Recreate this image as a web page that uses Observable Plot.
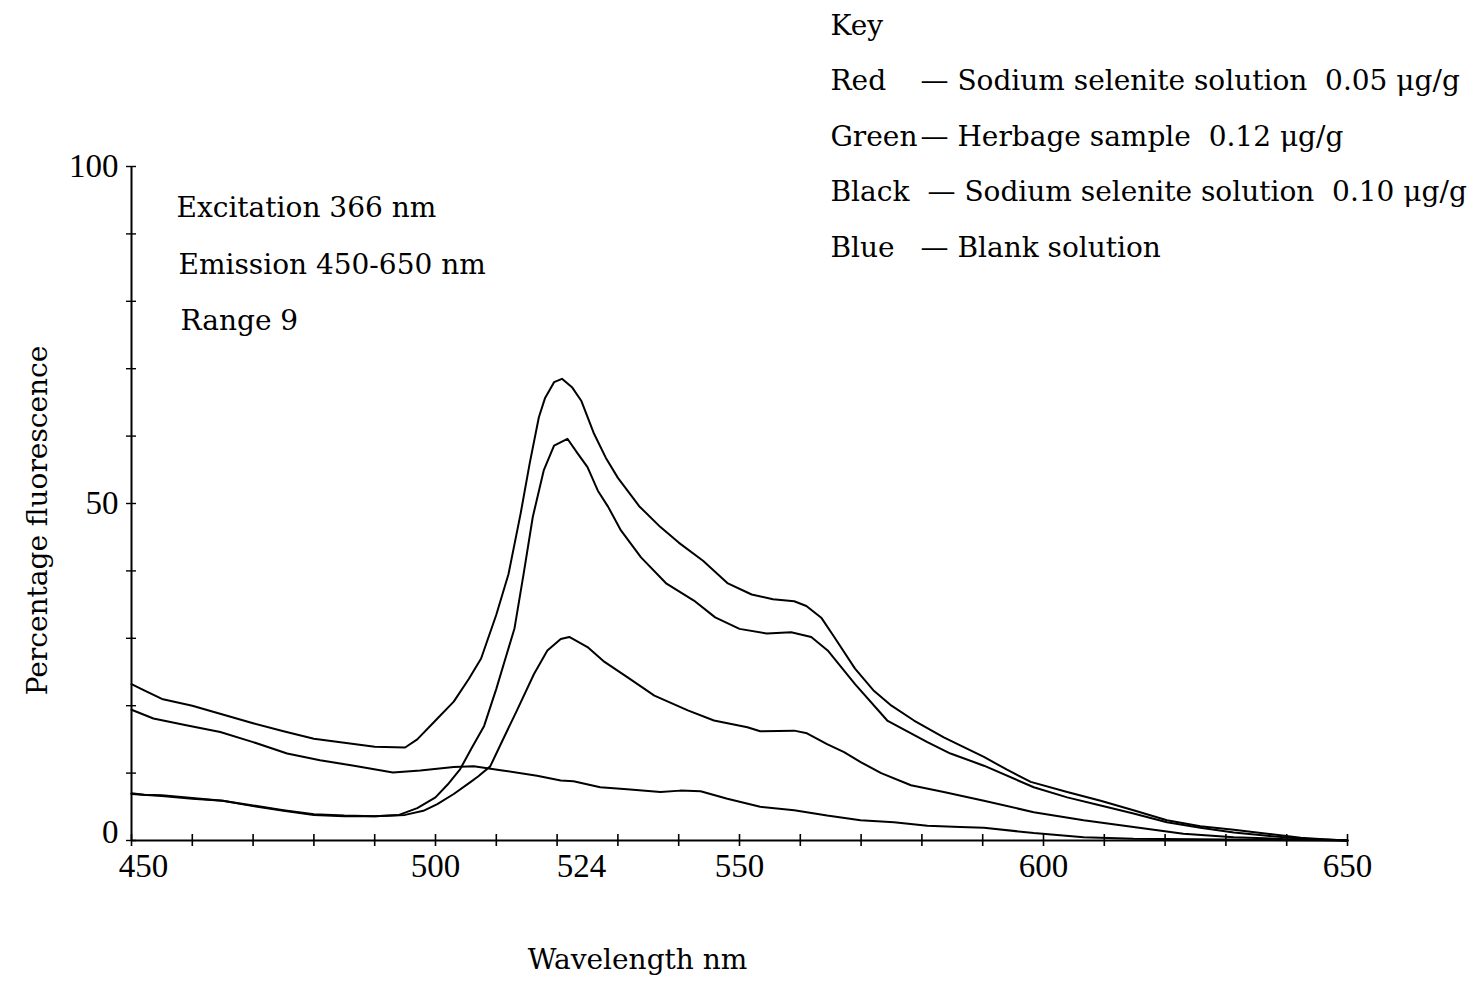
<!DOCTYPE html>
<html><head><meta charset="utf-8">
<script src="https://cdn.jsdelivr.net/npm/d3@7"></script>
<script src="https://cdn.jsdelivr.net/npm/@observablehq/plot@0.6"></script>
<style>
html,body{margin:0;padding:0;background:#fff;}
#chart svg{display:block;}
</style></head><body><div id="chart"></div>
<script>
// ---------- data ----------
const seriesNames = ["Red", "Green", "Black", "Blue"];
const keyDescriptions = [
  "Sodium selenite solution\u00a0\u00a00.05\u00a0\u03bcg/g",
  "Herbage sample\u00a0\u00a00.12\u00a0\u03bcg/g",
  "Sodium selenite solution\u00a0\u00a00.10\u00a0\u03bcg/g",
  "Blank solution"
];
const notes = ["Excitation 366 nm", "Emission 450-650 nm", "Range 9"];
const xTickLabels = [450, 500, 524, 550, 600, 650];
const xMinorTicks = [450, 460, 470, 480, 490, 500, 510, 520, 530, 540, 550, 560, 570, 580, 590, 600, 610, 620, 630, 640, 650];
const yTickLabels = [0, 50, 100];
const yMinorTicks = [0, 10, 20, 30, 40, 50, 60, 70, 80, 90, 100];

// Green: herbage sample 0.12 ug/g (tallest peak)
const greenWl = [450,452,455,460,465,470,475,480,485,490,495,497,500,503,505.5,507.5,510,512,514,515.5,517,518,519.5,520.8,522.5,524,526,528,530,533.5,537,540,544,548,552,555.5,559,561,563.5,565.5,569,572,575,578.7,583.6,586.3,590.2,594,597.9,603.9,609.4,614.8,620.3,625.8,631.3,636.8,642.3,646,650];
const greenPct = [23.2,22.3,21.0,20.0,18.7,17.4,16.2,15.1,14.5,13.9,13.8,15.0,17.8,20.6,24.0,27.0,33.5,39.5,48.5,56.0,62.8,65.6,68.0,68.5,67.2,65.2,60.5,56.8,53.8,49.6,46.5,44.2,41.5,38.2,36.5,35.8,35.5,34.8,33.0,30.3,25.5,22.3,20.0,17.8,15.3,14.1,12.4,10.5,8.7,7.2,5.9,4.5,3.0,2.1,1.6,1.0,0.4,0.2,0.0];

// Black: sodium selenite 0.10 ug/g
const blackWl = [450,452,455,460,465,470,475,480,485,490,494,497,500,502,504,506,508,510,511.5,513,514.5,516,517.8,519.5,521.7,523.4,525,526.7,528.4,530.5,533.8,538,542.5,546,550,554.5,558.5,561.8,564.5,569,574.3,580.9,584.7,590.2,598.4,603.9,609.4,614.8,620.3,625.8,631.3,636.8,642.3,646,650];
const blackPct = [7.0,6.8,6.7,6.3,5.9,5.2,4.5,3.9,3.7,3.6,3.8,4.8,6.4,8.3,10.5,13.8,17.0,22.5,27.0,31.5,39.6,48.0,54.9,58.6,59.6,57.4,55.4,51.9,49.5,46.0,42.0,38.1,35.6,33.1,31.4,30.7,30.9,30.2,28.2,23.2,17.8,14.6,12.9,11.1,7.9,6.4,5.2,4.0,2.7,1.9,1.2,0.7,0.25,0.15,0.0];

// Red: sodium selenite 0.05 ug/g
const redWl = [450,455,460,465,470,475,480,485,490,495,498,500.3,503,505.8,507,509,511,513.4,516.2,518.4,520.6,522,525,527.8,531.6,536,541.5,545.8,551.3,553.4,559,561.1,564.4,567.2,570,573.3,578.2,583.6,590.2,598.4,606.6,614.8,623,631.3,640,650];
const redPct = [6.9,6.6,6.2,5.9,5.1,4.4,3.8,3.6,3.6,3.8,4.4,5.4,6.9,8.7,9.5,11.0,14.8,19.3,24.7,28.2,29.9,30.2,28.7,26.5,24.2,21.5,19.3,17.8,16.8,16.2,16.3,15.9,14.3,13.1,11.6,10.0,8.2,7.2,5.9,4.2,3.0,2.0,1.0,0.5,0.2,0.0];

// Blue: blank solution
const blueWl = [450,453.6,459,464.6,470,475.6,481,486.6,493,497.5,503,506.3,511,516.7,520.6,522.7,527.1,531.5,537,540.3,543.6,548,553.4,559,564.4,569.9,575.4,580.9,586.3,590.2,598.4,606.6,614.8,625,635,650];
const bluePct = [19.4,18.1,17.1,16.1,14.6,12.9,11.9,11.1,10.1,10.4,10.9,11.0,10.4,9.6,8.9,8.8,7.9,7.6,7.2,7.4,7.3,6.2,5.0,4.5,3.7,3.0,2.7,2.2,2.0,1.9,1.1,0.5,0.25,0.2,0.1,0.0];

// ---------- build table ----------
const rows = [];
function addSeries(name, wl, pct) { wl.forEach((w, i) => rows.push({series: name, wl: w, pct: pct[i]})); }
addSeries("Red", redWl, redPct);
addSeries("Green", greenWl, greenPct);
addSeries("Black", blackWl, blackPct);
addSeries("Blue", blueWl, bluePct);

const FONT = "DejaVu Serif";
const TICKFONT = "Liberation Serif";
const FS = 28;

const marks = [
  Plot.ruleY([0], {stroke: "black", strokeWidth: 2}),
  Plot.ruleX([450], {stroke: "black", strokeWidth: 2}),
  Plot.ruleX(xMinorTicks, {y1: 0, y2: 0, insetTop: -6, insetBottom: -6, stroke: "black", strokeWidth: 1.6}),
  Plot.ruleY(yMinorTicks, {x1: 450, x2: 450, insetLeft: -5, insetRight: -5, stroke: "black", strokeWidth: 1.4}),
  Plot.axisX(xTickLabels.slice(0, 1), {tickSize: 0, tickPadding: 13, fontSize: 33, fontFamily: TICKFONT, dx: 12, label: null}),
  Plot.axisX(xTickLabels.slice(1), {tickSize: 0, tickPadding: 13, fontSize: 33, fontFamily: TICKFONT, label: null}),
  Plot.axisY(yTickLabels.slice(0, 1), {tickSize: 0, tickPadding: 13, fontSize: 33, fontFamily: TICKFONT, dy: -8, label: null}),
  Plot.axisY(yTickLabels.slice(1), {tickSize: 0, tickPadding: 13, fontSize: 33, fontFamily: TICKFONT, label: null}),
  Plot.line(rows, {x: "wl", y: "pct", z: "series", stroke: "black", strokeWidth: 2}),
  // axis titles
  Plot.text(["Percentage fluorescence"], {frameAnchor: "left", textAnchor: "middle", dx: -93, dy: 17, rotate: -90, fontSize: FS}),
  Plot.text(["Wavelength nm"], {frameAnchor: "bottom", textAnchor: "middle", dx: -102, dy: 128, fontSize: FS}),
  // key header
  Plot.text(["Key"], {frameAnchor: "top-left", dx: 699, dy: -151, textAnchor: "start", fontSize: FS})
];
seriesNames.forEach((name, i) => {
  marks.push(Plot.text([name], {frameAnchor: "top-left", dx: 699, dy: -96 + i * 55.5, textAnchor: "start", fontSize: FS}));
  marks.push(Plot.text(["\u2014 " + keyDescriptions[i]], {frameAnchor: "top-left", dx: 789 + (i === 2 ? 7 : 0), dy: -96 + i * 55.5, textAnchor: "start", fontSize: FS}));
});
notes.forEach((t, i) => {
  marks.push(Plot.text([t], {frameAnchor: "top-left", dx: 45 + i * 2, dy: 31 + i * 56.5, textAnchor: "start", fontSize: FS}));
});

const chart = Plot.plot({
  width: 1478,
  height: 987,
  marginLeft: 131,
  marginRight: 131,
  marginTop: 166,
  marginBottom: 147,
  x: {domain: [450, 650]},
  y: {domain: [0, 100]},
  style: {fontFamily: FONT, fontSize: "28px", color: "black", background: "white", overflow: "visible"},
  marks
});
document.getElementById("chart").appendChild(chart);
</script>
</body></html>
